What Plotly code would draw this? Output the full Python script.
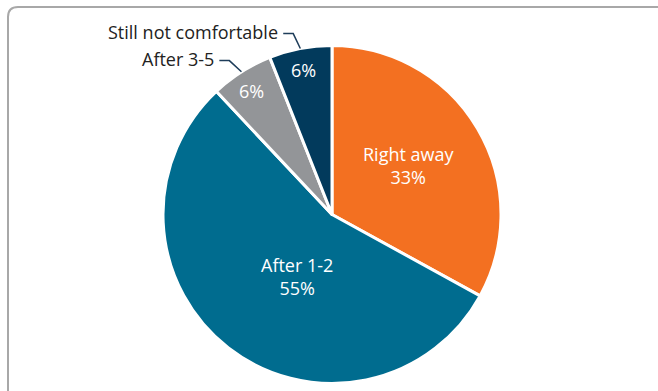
import math
import plotly.graph_objects as go

# ---- data ----
categories = ["Right away", "After 1-2", "After 3-5", "Still not comfortable"]
values = [33, 55, 6, 6]
colors = ["#F37021", "#006C8F", "#939598", "#023A5C"]

# ---- layout / style ----
W, H = 658, 391
CX, CY, R = 332, 214.5, 169
FONT = "Open Sans"
FSIZE = 18
label_inside = [True, True, False, False]
text_frac = [0.54, 0.42, 0.87, 0.87]
text_angle_off = [-2, -8, -0.6, -0.5]


def px(x, y):
    return x / W, 1 - y / H


def polar(theta_deg, rr):
    t = math.radians(theta_deg)
    return CX + rr * math.sin(t), CY - rr * math.cos(t)


fig = go.Figure(
    go.Pie(
        labels=categories,
        values=values,
        sort=False,
        direction="clockwise",
        rotation=0,
        marker=dict(colors=colors, line=dict(color="white", width=3)),
        textinfo="none",
        hoverinfo="label+percent",
        domain=dict(x=[(CX - R) / W, (CX + R) / W], y=[(H - CY - R) / H, (H - CY + R) / H]),
        showlegend=False,
    )
)

total = sum(values)
annotations = []
shapes = []
cum = 0
for i, (cat, v) in enumerate(zip(categories, values)):
    start = cum / total * 360
    mid = start + v / total * 180
    cum += v
    pct = f"{round(v / total * 100)}%"
    tx, ty = polar(mid + text_angle_off[i], R * text_frac[i])
    txt = f"{cat}<br>{pct}" if label_inside[i] else pct
    X, Y = px(tx, ty)
    annotations.append(dict(x=X, y=Y, xref="paper", yref="paper", text=txt, showarrow=False,
                            xanchor="center", yanchor="middle",
                            font=dict(family=FONT, size=FSIZE, color="white")))
    if not label_inside[i]:
        ex, ey = polar(mid, R)
        bx, by = polar(mid - 1.3, R + 16)
        hx, hy = bx - 10, by
        p = [px(ex, ey), px(bx, by), px(hx, hy)]
        shapes.append(dict(type="path", xref="paper", yref="paper",
                           path="M {} {} L {} {} L {} {}".format(p[0][0], p[0][1], p[1][0], p[1][1], p[2][0], p[2][1]),
                           line=dict(color="#1E3D5A", width=1.5)))
        LX, LY = px(hx - 3, hy - 1.5)
        annotations.append(dict(x=LX, y=LY, xref="paper", yref="paper", text=cat, showarrow=False,
                                xanchor="right", yanchor="middle",
                                font=dict(family=FONT, size=FSIZE, color="#222222")))

# border with rounded top-left corner
b = [px(8, H + 5), px(8, 17), px(8, 7), px(18, 7), px(W + 5, 7)]
shapes.append(dict(type="path", xref="paper", yref="paper",
                   path="M {} {} L {} {} Q {} {} {} {} L {} {}".format(
                       b[0][0], b[0][1], b[1][0], b[1][1], b[2][0], b[2][1], b[3][0], b[3][1], b[4][0], b[4][1]),
                   line=dict(color="#A8A8A8", width=2)))

fig.update_layout(
    width=W, height=H,
    margin=dict(l=0, r=0, t=0, b=0),
    paper_bgcolor="white",
    plot_bgcolor="white",
    annotations=annotations,
    shapes=shapes,
    font=dict(family=FONT),
)

fig.write_html("out.html")
